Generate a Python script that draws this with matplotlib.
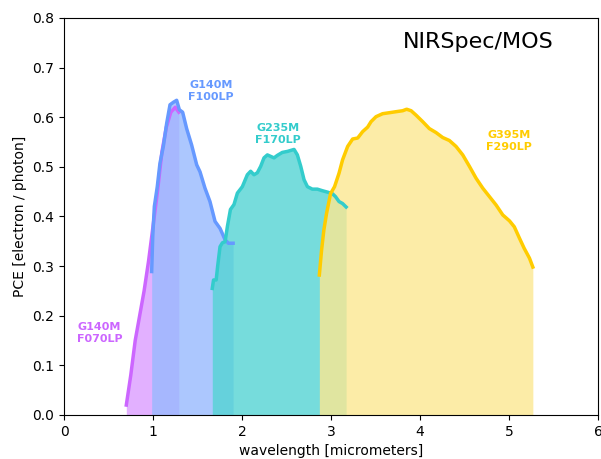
import matplotlib
matplotlib.use("Agg")
import matplotlib.pyplot as plt
import numpy as np

# G140M / F070LP
wl_f070 = [0.70, 0.75, 0.80, 0.85, 0.90, 0.95, 1.00, 1.05, 1.10, 1.15, 1.20, 1.25, 1.29]
pce_f070 = [0.02, 0.08, 0.15, 0.20, 0.25, 0.31, 0.38, 0.45, 0.53, 0.58, 0.61, 0.62, 0.61]

# G140M / F100LP
wl_f100 = [0.985, 0.997, 1.015, 1.048, 1.078, 1.116, 1.154, 1.191, 1.229, 1.266, 1.296,
           1.333, 1.378, 1.434, 1.491, 1.528, 1.584, 1.640, 1.697, 1.753, 1.81, 1.847, 1.90]
pce_f100 = [0.289, 0.36, 0.42, 0.46, 0.507, 0.541, 0.588, 0.625, 0.630, 0.634, 0.615,
            0.61, 0.577, 0.544, 0.504, 0.490, 0.457, 0.430, 0.390, 0.376, 0.353, 0.346, 0.346]

# G235M / F170LP
wl_f170 = [1.666, 1.68, 1.71, 1.726, 1.753, 1.78, 1.81, 1.836, 1.87, 1.91, 1.948, 2.004,
           2.06, 2.097, 2.135, 2.172, 2.21, 2.247, 2.285, 2.322, 2.36, 2.397, 2.453, 2.51,
           2.585, 2.622, 2.66, 2.697, 2.735, 2.79, 2.847, 2.90, 2.96, 3.015, 3.05, 3.09,
           3.13, 3.17]
pce_f170 = [0.255, 0.272, 0.272, 0.299, 0.339, 0.347, 0.349, 0.380, 0.414, 0.424, 0.447,
            0.46, 0.484, 0.491, 0.484, 0.488, 0.501, 0.518, 0.524, 0.521, 0.518, 0.523,
            0.529, 0.531, 0.535, 0.524, 0.501, 0.474, 0.46, 0.455, 0.455, 0.452, 0.449,
            0.446, 0.44, 0.43, 0.426, 0.419]

# G395M / F290LP
wl_f290 = [2.869, 2.894, 2.92, 2.95, 2.995, 3.04, 3.09, 3.13, 3.187, 3.243, 3.30, 3.356,
           3.412, 3.45, 3.506, 3.58, 3.656, 3.73, 3.806, 3.85, 3.90, 3.956, 4.03, 4.105,
           4.18, 4.255, 4.33, 4.405, 4.48, 4.555, 4.63, 4.705, 4.78, 4.855, 4.93, 5.006,
           5.06, 5.118, 5.17, 5.23, 5.268]
pce_f290 = [0.282, 0.332, 0.373, 0.406, 0.446, 0.46, 0.487, 0.514, 0.541, 0.556, 0.558,
            0.571, 0.580, 0.591, 0.601, 0.607, 0.609, 0.611, 0.613, 0.616, 0.613, 0.604,
            0.591, 0.577, 0.569, 0.559, 0.553, 0.541, 0.524, 0.501, 0.477, 0.457, 0.440,
            0.423, 0.403, 0.391, 0.379, 0.356, 0.336, 0.316, 0.298]

series = [
    (wl_f070, pce_f070, "#cc66ff", "#db9cff", "G140M\nF070LP", (0.40, 0.165)),
    (wl_f100, pce_f100, "#6699ff", "#98bafe", "G140M\nF100LP", (1.65, 0.653)),
    (wl_f170, pce_f170, "#33cccc", "#54d4d4", "G235M\nF170LP", (2.40, 0.567)),
    (wl_f290, pce_f290, "#ffcc00", "#fce891", "G395M\nF290LP", (5.00, 0.552)),
]

fig = plt.figure(figsize=(6.01, 4.59), dpi=100)
ax = fig.add_axes([0.1065, 0.0959, 0.8885, 0.8651])

for i, (x, y, lc, fc, lab, pos) in enumerate(series):
    ax.fill_between(x, 0, y, color=fc, alpha=0.8, linewidth=0, zorder=1 + i * 0.1)
for i, (x, y, lc, fc, lab, pos) in enumerate(series):
    ax.plot(x, y, color=lc, linewidth=2.5, zorder=3 + i * 0.1)
    ax.text(pos[0], pos[1], lab, color=lc, fontsize=8, fontweight="bold",
            ha="center", va="center", linespacing=1.25)

ax.text(4.65, 0.752, "NIRSpec/MOS", fontsize=16, ha="center", va="center")

ax.set_xlim(0, 6)
ax.set_ylim(0, 0.8)
ax.set_xlabel("wavelength [micrometers]", labelpad=4)
ax.set_ylabel("PCE [electron / photon]")

fig.savefig("out.png", dpi=100)
